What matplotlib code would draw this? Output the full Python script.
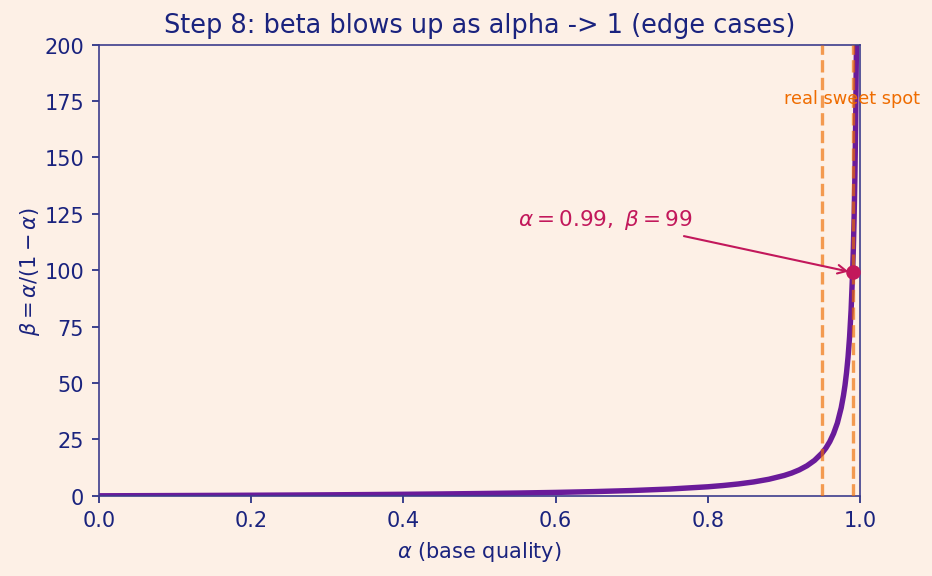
import matplotlib
matplotlib.use("Agg")
import matplotlib.pyplot as plt

# alpha (base quality) and beta
alpha = [0.0, 0.05, 0.1, 0.15, 0.2, 0.25, 0.3, 0.35, 0.4, 0.45, 0.5, 0.55, 0.6,
         0.65, 0.7, 0.75, 0.8, 0.82, 0.84, 0.86, 0.88, 0.9, 0.91, 0.92, 0.93,
         0.94, 0.95, 0.955, 0.96, 0.965, 0.97, 0.975, 0.978, 0.98, 0.982,
         0.984, 0.986, 0.988, 0.99, 0.991, 0.992, 0.993, 0.994, 0.995, 0.996,
         0.997, 0.998, 0.999]
beta = [0.0, 0.053, 0.111, 0.176, 0.25, 0.333, 0.429, 0.538, 0.667, 0.818, 1.0,
        1.22, 1.5, 1.86, 2.33, 3.0, 4.0, 4.56, 5.25, 6.14, 7.33, 9.0, 10.1,
        11.5, 13.3, 15.7, 19.0, 21.2, 24.0, 27.6, 32.3, 39.0, 44.5, 49.0, 54.6,
        61.5, 70.4, 82.3, 99.0, 110.1, 124.0, 141.9, 165.7, 199.0, 249.0,
        332.3, 499.0, 999.0]

sweet_lines = [0.95, 0.99]
mark_alpha = 0.99
mark_beta = 99

bg = "#fdf0e6"
navy = "#1a237e"
purple = "#6a1b9a"
pink = "#c2185b"
orange = "#ef6c00"

fig, ax = plt.subplots(figsize=(9.32 / 1.5, 5.77 / 1.5), dpi=150)
fig.patch.set_facecolor(bg)
ax.set_facecolor(bg)

ax.plot(alpha, beta, color=purple, linewidth=2.6, zorder=2)
for v in sweet_lines:
    ax.axvline(v, color=orange, linestyle="--", linewidth=1.6, alpha=0.65, zorder=3)
ax.text(0.9, 172.5, "real sweet spot", color=orange, fontsize=8.5, va="bottom", ha="left")

ax.plot(mark_alpha, mark_beta, "o", color=pink, markersize=6, zorder=5)
ax.annotate(r"$\alpha=0.99,\ \beta=99$", xy=(mark_alpha, mark_beta),
            xytext=(0.55, 120), color=pink, fontsize=10.3,
            arrowprops=dict(arrowstyle="->", color=pink, lw=1.0))

ax.set_xlim(0, 1)
ax.set_ylim(0, 200)
ax.set_title("Step 8: beta blows up as alpha -> 1 (edge cases)", color=navy, fontsize=12.3)
ax.set_xlabel(r"$\alpha$ (base quality)", color=navy, fontsize=10)
ax.set_ylabel(r"$\beta=\alpha/(1-\alpha)$", color=navy, fontsize=10, labelpad=1)
ax.tick_params(colors=navy, labelsize=10)
for s in ax.spines.values():
    s.set_color("#3c3c8c")

fig.subplots_adjust(left=0.106, right=0.923, top=0.921, bottom=0.139)
fig.savefig("out.png", dpi=150, facecolor=bg)
